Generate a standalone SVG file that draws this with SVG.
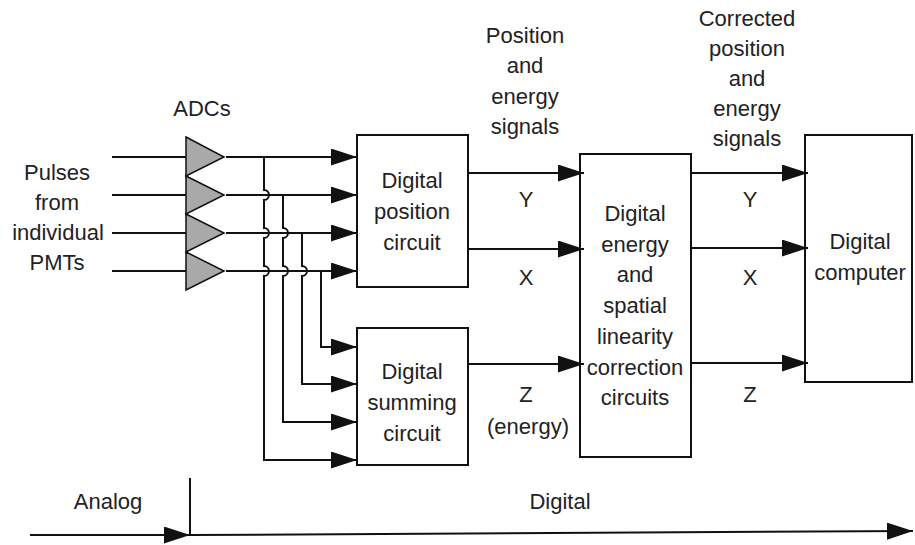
<svg xmlns="http://www.w3.org/2000/svg" width="915" height="545" viewBox="0 0 915 545">
<style>
text{font-family:"Liberation Sans",Arial,sans-serif;font-size:22px;fill:#222;text-anchor:middle}
.box{fill:#fff;stroke:#111;stroke-width:2}
.ln{fill:none;stroke:#111;stroke-width:2}
.adc{fill:#a9a9a9;stroke:#111;stroke-width:1.5}
</style>
<defs>
<marker id="ah" markerUnits="userSpaceOnUse" markerWidth="26" markerHeight="17" refX="26" refY="8.5" orient="auto">
<path d="M0,0 L26,8.5 L0,17 z" fill="#111"/>
</marker>
</defs>
<rect width="915" height="545" fill="#fff"/>

<g id="labels">
<text x="57" y="180">Pulses</text>
<text x="57" y="210">from</text>
<text x="58" y="240">individual</text>
<text x="57" y="270">PMTs</text>
<text x="202" y="116">ADCs</text>
<text x="525" y="43">Position</text>
<text x="525" y="73">and</text>
<text x="525" y="104">energy</text>
<text x="525" y="134">signals</text>
<text x="747" y="26">Corrected</text>
<text x="747" y="56">position</text>
<text x="747" y="86">and</text>
<text x="747" y="116">energy</text>
<text x="747" y="146">signals</text>
<text x="526" y="207">Y</text>
<text x="526" y="285">X</text>
<text x="526" y="402">Z</text>
<text x="528" y="434">(energy)</text>
<text x="750" y="207">Y</text>
<text x="750" y="285">X</text>
<text x="750" y="402">Z</text>
<text x="108" y="509">Analog</text>
<text x="560" y="509">Digital</text>
</g>

<g id="adcs">
<polygon class="adc" points="186,137 224,157 186,176"/>
<polygon class="adc" points="186,176 224,195 186,214"/>
<polygon class="adc" points="186,214 224,233 186,252"/>
<polygon class="adc" points="186,252 224,271 186,290"/>
</g>

<g id="position">
<rect class="box" x="357" y="135" width="111" height="152"/>
<text x="412" y="188">Digital</text>
<text x="412" y="219">position</text>
<text x="412" y="250">circuit</text>
</g>

<g id="summing">
<rect class="box" x="357" y="328" width="111" height="137"/>
<text x="412" y="379">Digital</text>
<text x="412" y="410">summing</text>
<text x="412" y="441">circuit</text>
</g>

<g id="correction">
<rect class="box" x="580" y="154" width="111" height="303"/>
<text x="635" y="221">Digital</text>
<text x="635" y="252">energy</text>
<text x="635" y="282">and</text>
<text x="635" y="313">spatial</text>
<text x="635" y="344">linearity</text>
<text x="635" y="375">correction</text>
<text x="635" y="405">circuits</text>
</g>

<g id="computer">
<rect class="box" x="805" y="135" width="107" height="247"/>
<text x="860" y="249">Digital</text>
<text x="860" y="280">computer</text>
</g>

<g id="connectors">
<line class="ln" x1="112" y1="157" x2="186" y2="157"/>
<line class="ln" x1="112" y1="195" x2="186" y2="195"/>
<line class="ln" x1="112" y1="233" x2="186" y2="233"/>
<line class="ln" x1="112" y1="271" x2="186" y2="271"/>
<line class="ln" x1="226" y1="157" x2="357" y2="157" marker-end="url(#ah)"/>
<line class="ln" x1="226" y1="195" x2="357" y2="195" marker-end="url(#ah)"/>
<line class="ln" x1="226" y1="233" x2="357" y2="233" marker-end="url(#ah)"/>
<line class="ln" x1="226" y1="271" x2="357" y2="271" marker-end="url(#ah)"/>
<path class="ln" d="M264,157 V190 a5,5 0 0 1 0,10 V228 a5,5 0 0 1 0,10 V266 a5,5 0 0 1 0,10 V460 H357" marker-end="url(#ah)"/>
<path class="ln" d="M283,195 V228 a5,5 0 0 1 0,10 V266 a5,5 0 0 1 0,10 V422 H357" marker-end="url(#ah)"/>
<path class="ln" d="M302,233 V266 a5,5 0 0 1 0,10 V384 H357" marker-end="url(#ah)"/>
<path class="ln" d="M321,271 V347 H357" marker-end="url(#ah)"/>
<line class="ln" x1="468" y1="173" x2="584" y2="173" marker-end="url(#ah)"/>
<line class="ln" x1="468" y1="249" x2="584" y2="249" marker-end="url(#ah)"/>
<line class="ln" x1="468" y1="364" x2="584" y2="364" marker-end="url(#ah)"/>
<line class="ln" x1="691" y1="173" x2="808" y2="173" marker-end="url(#ah)"/>
<line class="ln" x1="691" y1="248" x2="808" y2="248" marker-end="url(#ah)"/>
<line class="ln" x1="691" y1="363" x2="808" y2="363" marker-end="url(#ah)"/>
<line class="ln" x1="30" y1="535" x2="190" y2="535" marker-end="url(#ah)"/>
<line class="ln" x1="190" y1="478" x2="190" y2="535"/>
<line class="ln" x1="190" y1="535" x2="913" y2="531" marker-end="url(#ah)"/>
</g>
</svg>
